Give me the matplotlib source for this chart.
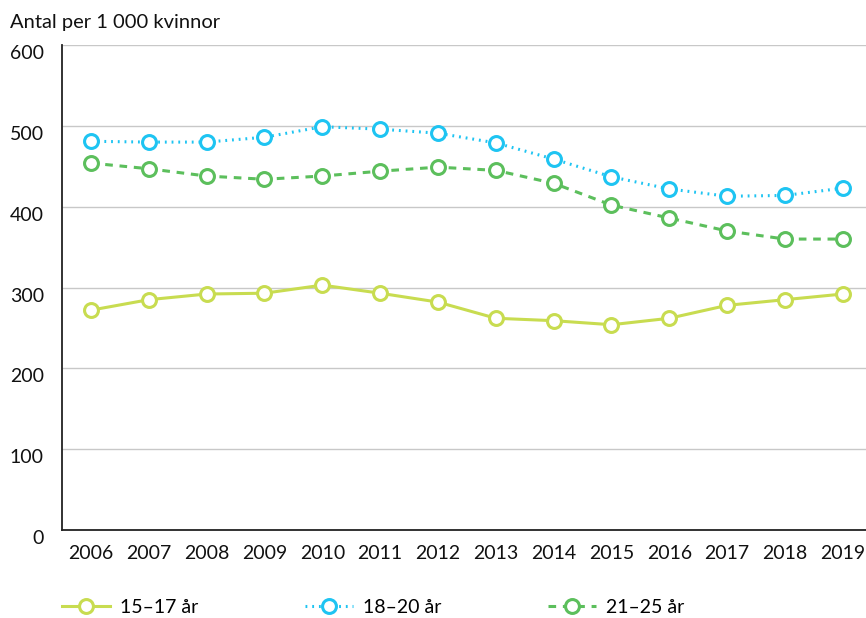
import matplotlib.pyplot as plt
import matplotlib.transforms as mtransforms

years = list(range(2006, 2020))
age_15_17 = [272, 285, 292, 293, 303, 293, 282, 262, 259, 254, 262, 278, 285, 292]
age_18_20 = [481, 480, 480, 486, 499, 496, 491, 479, 459, 437, 422, 413, 414, 423]
age_21_25 = [454, 447, 438, 434, 438, 444, 449, 445, 429, 402, 386, 370, 360, 360]
labels = ["15\u201317 år", "18\u201320 år", "21\u201325 år"]

colors = ["#c8dc50", "#1ec4f2", "#5cbf5c"]
styles = ["-", (0, (0.6, 1.6)), (0, (2.5, 2.2))]

plt.rcParams['font.family'] = ['Lato', 'DejaVu Sans']

fig = plt.figure(figsize=(8.66, 6.18), dpi=100)
ax = fig.add_axes([0.0716, 0.1424, 0.9284, 0.7846])

lines = []
for vals, c, ls, lab in zip([age_15_17, age_18_20, age_21_25], colors, styles, labels):
    ln, = ax.plot(years, vals, color=c, linestyle=ls, linewidth=2.2, marker="o",
                  markersize=10, markerfacecolor="white", markeredgecolor=c,
                  markeredgewidth=2.2, label=lab, zorder=3)
    lines.append(ln)

ax.set_xlim(2005.5, 2019.4)
ax.set_ylim(0, 600)
ax.set_yticks(range(0, 601, 100))
ax.set_xticks(years)
ax.grid(axis="y", color="#c8c8c8", linewidth=1)
ax.set_axisbelow(True)
for s in ["top", "right"]:
    ax.spines[s].set_visible(False)
ax.spines["left"].set_color("#222222")
ax.spines["bottom"].set_color("#222222")
ax.spines["left"].set_linewidth(1.3)
ax.spines["bottom"].set_linewidth(1.3)
ax.tick_params(length=0, labelsize=14, colors="#111111")
ax.tick_params(axis="x", pad=11)
ax.tick_params(axis="y", pad=13)

offset = mtransforms.ScaledTranslation(0, -7 / 100, fig.dpi_scale_trans)
for lbl in ax.get_yticklabels():
    lbl.set_transform(lbl.get_transform() + offset)

fig.text(0.011, 0.964, "Antal per 1 000 kvinnor", fontsize=14.5, color="#111111", va="center")

xs = [62 / 866, 305 / 866, 548 / 866]
for ln, x in zip(lines, xs):
    fig.legend(handles=[ln], loc="center left", bbox_to_anchor=(x, 0.017),
               frameon=False, fontsize=14, handlelength=2.45, handletextpad=0.55,
               borderaxespad=0, borderpad=0)

fig.savefig("out.png", dpi=100)
